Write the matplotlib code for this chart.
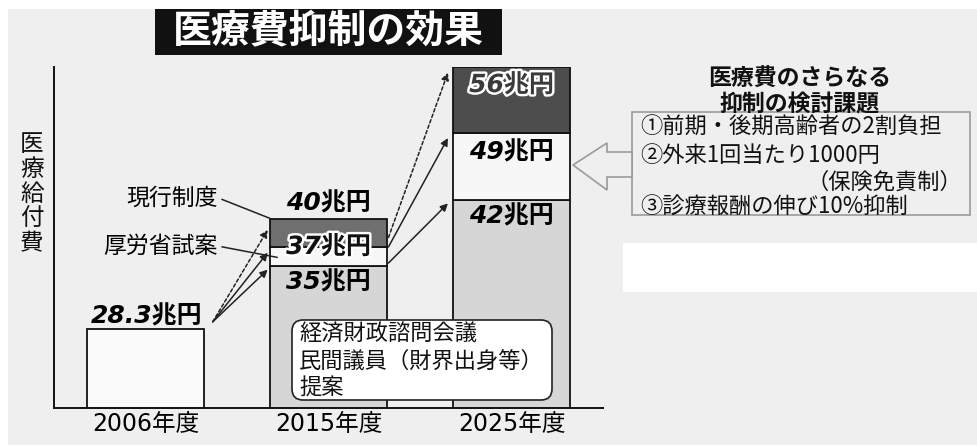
import matplotlib
matplotlib.use("Agg")
import matplotlib.pyplot as plt
import matplotlib.patheffects as pe
from matplotlib.patches import Rectangle, FancyBboxPatch, Polygon
from matplotlib.transforms import IdentityTransform

plt.rcParams['font.family'] = ['Noto Sans CJK JP', 'DejaVu Sans']

# ---- data (兆円) ----
years = ['2006年度', '2015年度', '2025年度']
actual_2006 = 28.3
current_system = [40, 56]      # 現行制度
mhlw_proposal = [37, 49]       # 厚労省試案
council_proposal = [35, 42]    # 経済財政諮問会議 民間議員提案
future_years_idx = [1, 2]
value_unit = '兆円'

W, H = 977, 447
fig = plt.figure(figsize=(W / 100, H / 100), dpi=100)
fig.patch.set_facecolor('white')
PX = IdentityTransform()


def py(y):
    """top-based pixel row -> display y"""
    return H - y


# paper background
fig.add_artist(Rectangle((8, py(445)), W - 8, 436, transform=PX,
                         facecolor='#efefef', edgecolor='none', zorder=-10))
fig.add_artist(Rectangle((623, py(292)), W - 623, 49, transform=PX,
                         facecolor='white', edgecolor='none', zorder=-9))

ax = fig.add_axes([54 / W, 1 - 408 / H, (603 - 54) / W, (408 - 67) / H])
ax.set_facecolor('none')
ax.set_xlim(-0.5, 2.5)
ax.set_ylim(20, 56)
for s in ('top', 'right'):
    ax.spines[s].set_visible(False)
for s in ('left', 'bottom'):
    ax.spines[s].set_linewidth(1.4)
    ax.spines[s].set_color('#111')
ax.set_yticks([])
ax.set_xticks(range(len(years)))
ax.set_xticklabels(years, fontsize=17, family=['DejaVu Sans', 'Noto Sans CJK JP'])
ax.tick_params(axis='x', length=0, pad=3)

bw = 0.635
edge = dict(edgecolor='#111', linewidth=1.3)
LIGHT, MID, DARK = '#d6d6d6', '#f7f7f7', ['#6f6f6f', '#4d4d4d']

ax.bar(0, actual_2006, width=bw, color='#fafafa', zorder=2, **edge)
for k, i in enumerate(future_years_idx):
    ax.bar(i, council_proposal[k], width=bw, color=LIGHT, zorder=2, **edge)
    ax.bar(i, mhlw_proposal[k] - council_proposal[k], bottom=council_proposal[k],
           width=bw, color=MID, zorder=2, **edge)
    ax.bar(i, current_system[k] - mhlw_proposal[k], bottom=mhlw_proposal[k],
           width=bw, color=DARK[k], zorder=2, **edge)

# value labels
vfont = dict(family=['DejaVu Sans', 'Noto Sans CJK JP'], style='italic',
             weight='bold', fontsize=18, ha='center', va='center', zorder=6)
halo = [pe.withStroke(linewidth=3.5, foreground='white')]


def vlabel(x, v, dy, dx=0, **kw):
    txt = f'{v:g}{value_unit}'
    ax.annotate(txt, xy=(x, v), xytext=(dx, dy), textcoords='offset points',
                **{**vfont, **kw})


vlabel(0, actual_2006, 9, dx=1)
vlabel(1, current_system[0], 11)
vlabel(1, mhlw_proposal[0], 0, color='#111', path_effects=halo)
vlabel(1, council_proposal[0], -12)
vlabel(2, current_system[1], -13, color='#3a3a3a', path_effects=halo)
vlabel(2, mhlw_proposal[1], -14)
vlabel(2, council_proposal[1], -12)


# growth arrows
def arrow(p0, p1, dashed=False):
    ax.annotate('', xy=p1, xytext=p0, zorder=5,
                arrowprops=dict(arrowstyle='-|>', color='#222', lw=1.1,
                                mutation_scale=11, shrinkA=0, shrinkB=0,
                                linestyle=(0, (2.2, 1.6)) if dashed else '-'))


left15 = 1 - bw / 2 - 0.015
left25 = 2 - bw / 2 - 0.03
right15 = 1 + bw / 2 + 0.01
start06 = (bw / 2 + 0.05, actual_2006 + 0.8)
arrow(start06, (left15, current_system[0] - 1.2), dashed=True)
arrow(start06, (left15, mhlw_proposal[0] - 0.6))
arrow(start06, (left15, council_proposal[0] - 0.4))
arrow((right15, mhlw_proposal[0] + 1.0), (left25, current_system[1] - 0.6), dashed=True)
arrow((right15, mhlw_proposal[0]), (left25, mhlw_proposal[1] - 0.5))
arrow((right15, council_proposal[0] + 0.3), (left25, council_proposal[1] - 0.4))

# series captions with leader lines
lead = dict(arrowstyle='-', color='#222', lw=1.1, shrinkA=1, shrinkB=0,
            relpos=(1, 0.5))
ax.annotate('現行制度', xy=(1 - bw / 2, current_system[0]), xytext=(0.395, 42.2),
            ha='right', va='center', fontsize=16.5, arrowprops=lead, zorder=5)
ax.annotate('厚労省試案', xy=(0.72, mhlw_proposal[0] - 1.1), xytext=(0.395, 37.1),
            ha='right', va='center', fontsize=16.5, arrowprops=lead, zorder=5)

# title
fig.add_artist(Rectangle((155, py(55)), 347, 46, transform=PX,
                         facecolor='#111', edgecolor='none', zorder=5))
fig.text(328.5 / W, 1 - 32 / H, '医療費抑制の効果', color='white', fontsize=28,
         weight='bold', ha='center', va='center', zorder=6)

# vertical axis caption
fig.text(32 / W, 1 - 194 / H, '\n'.join('医療給付費'), fontsize=17,
         ha='center', va='center', linespacing=1.1, color='#111')

# council proposal note
fig.add_artist(FancyBboxPatch((292, py(400)), 260, 80, transform=PX,
                              boxstyle='round,pad=0,rounding_size=11',
                              facecolor='white', edgecolor='#222', lw=1.2, zorder=7))
fig.text(299 / W, 1 - 361 / H, '経済財政諮問会議\n民間議員（財界出身等）\n提案',
         fontsize=16, ha='left', va='center', linespacing=1.22, color='#111',
         zorder=8)

# further measures panel
fig.text(800 / W, 1 - 92 / H, '医療費のさらなる\n抑制の検討課題', fontsize=16.5,
         weight='bold', ha='center', va='center', linespacing=1.15, color='#111')
fig.add_artist(Rectangle((632, py(215)), 338, 103, transform=PX,
                         facecolor='none', edgecolor='#9a9a9a', lw=1.2, zorder=3))
fig.add_artist(Polygon([(573, py(165)), (607, py(143)), (607, py(152)),
                        (632, py(152)), (632, py(177)), (607, py(177)),
                        (607, py(190))], closed=True, transform=PX,
                       facecolor='#efefef', edgecolor='#9a9a9a', lw=1.2, zorder=3))
items = ['①前期・後期高齢者の2割負担', '②外来1回当たり1000円', '（保険免責制）',
         '③診療報酬の伸び10%抑制']
rows = [127, 155, 182, 207]
for txt, r in zip(items, rows):
    if txt.startswith('（'):
        fig.text(962 / W, 1 - r / H, txt, fontsize=16, ha='right', va='center',
                 color='#111')
    else:
        fig.text(640 / W, 1 - r / H, txt, fontsize=16, ha='left', va='center',
                 color='#111')

fig.savefig('out.png', dpi=100)
